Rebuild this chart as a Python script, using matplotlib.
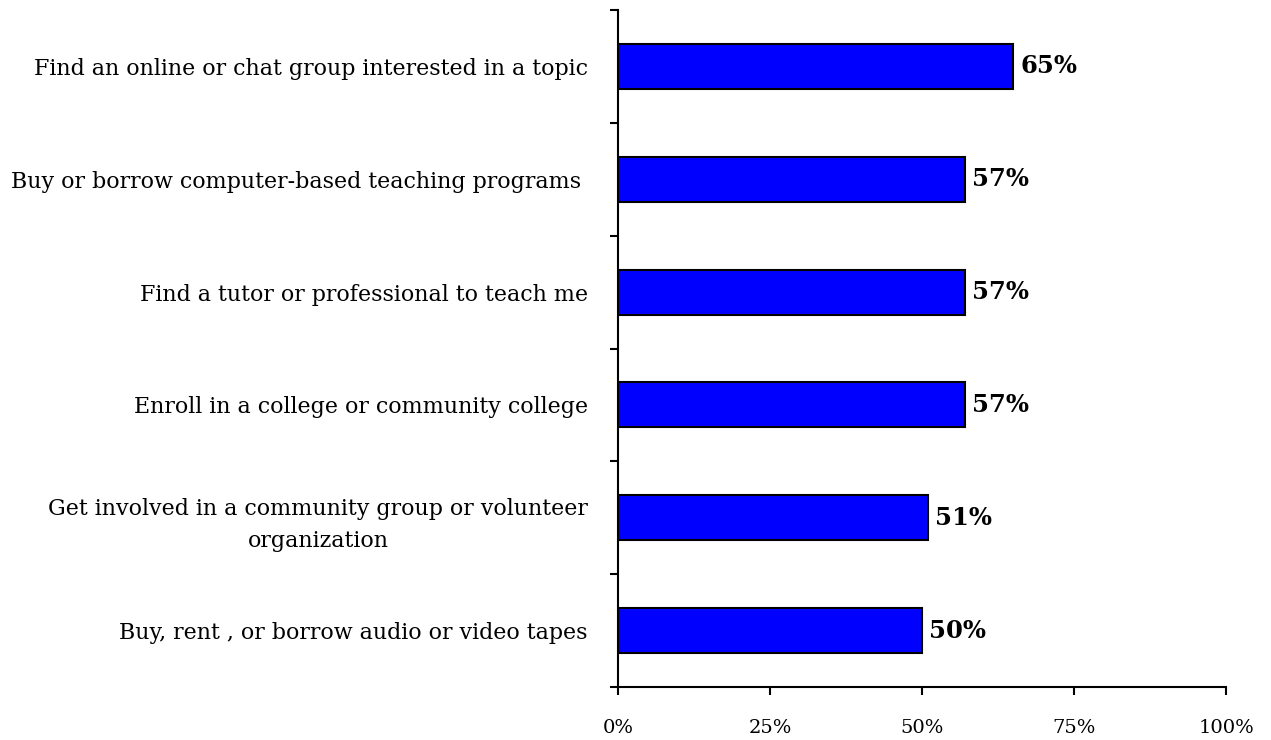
import numpy as np
import matplotlib.pyplot as plt

categories = [
    "Find an online or chat group interested in a topic",
    "Buy or borrow computer-based teaching programs ",
    "Find a tutor or professional to teach me",
    "Enroll in a college or community college",
    "Get involved in a community group or volunteer\norganization",
    "Buy, rent , or borrow audio or video tapes",
]
values = [65, 57, 57, 57, 51, 50]
xticks = [0, 25, 50, 75, 100]
xtick_labels = ["0%", "25%", "50%", "75%", "100%"]

plt.rcParams['font.family'] = ['DejaVu Serif']

fig = plt.figure(figsize=(12.71, 7.40), dpi=100)
ax = fig.add_axes([0.4866, 0.0716, 0.4780, 0.9149])

y = np.arange(len(categories))
ax.barh(y, values, height=0.4, color='#0000FF', edgecolor='black', linewidth=1.5)

for yi, v in zip(y, values):
    ax.annotate(f"{v}%", (v, yi), xytext=(5, 0), textcoords='offset points',
                va='center', ha='left', fontsize=17.5, fontweight='bold')

ax.set_xlim(0, 100)
ax.set_ylim(len(categories) - 0.5, -0.5)

ax.set_xticks(xticks)
ax.set_xticklabels(xtick_labels, fontsize=14)
ax.tick_params(axis='x', direction='out', length=6, width=1.5, pad=17)

# boundary ticks as major, labels on minor ticks at bar centres
ax.set_yticks(np.arange(-0.5, len(categories), 1.0))
ax.set_yticklabels([])
ax.tick_params(axis='y', which='major', direction='out', length=6, width=1.5)
ax.set_yticks(y, minor=True)
ax.set_yticklabels(categories, minor=True, fontsize=15.9)
ax.tick_params(axis='y', which='minor', length=0, pad=22)
for lab in ax.get_yticklabels(minor=True):
    lab.set_multialignment('center')
    lab.set_linespacing(1.6)

for s in ['top', 'right']:
    ax.spines[s].set_visible(False)
for s in ['left', 'bottom']:
    ax.spines[s].set_linewidth(1.5)

fig.savefig('out.png', dpi=100)
